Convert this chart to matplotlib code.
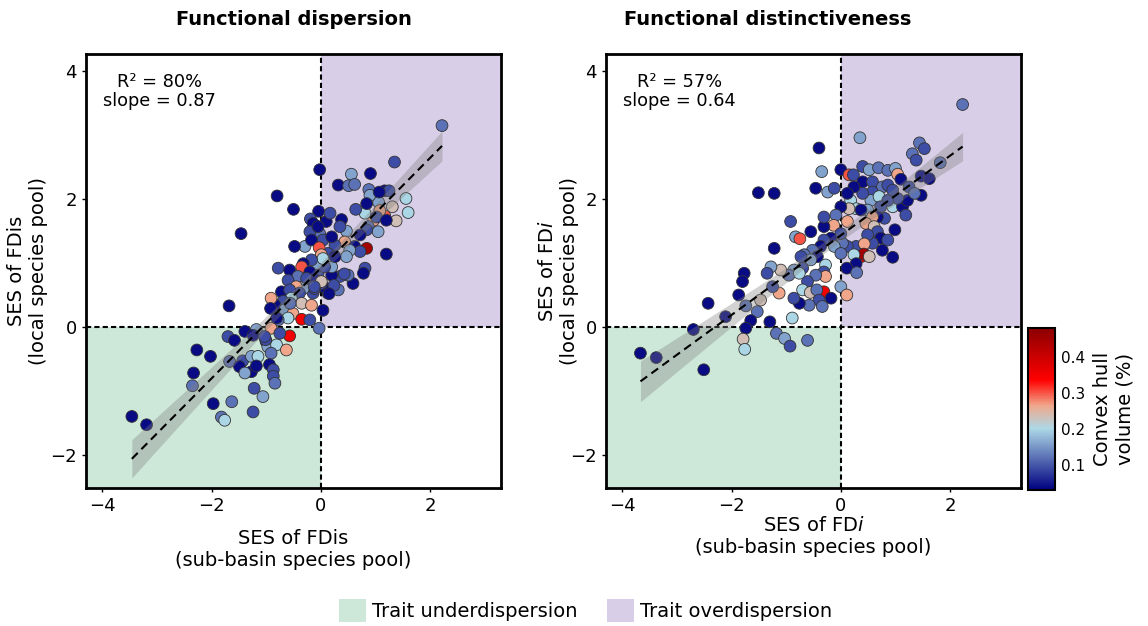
import numpy as np
import matplotlib
matplotlib.use("Agg")
import matplotlib.pyplot as plt
from matplotlib.colors import LinearSegmentedColormap
from matplotlib.patches import Patch

plt.rcParams['font.family'] = ['DejaVu Sans']
plt.rcParams['mathtext.fontset'] = 'dejavusans'

# convex hull volume (%) codes
N, D, M, S, L, R, A, T, E, K = 0.04, 0.09, 0.12, 0.16, 0.20, 0.235, 0.265, 0.30, 0.35, 0.45

# --- Functional dispersion (left) ---
fdis_sub = [2.22, 1.35, -0.02, 0.56, 0.91, 0.32, 0.51, 0.62, -0.80, -0.50,
            -0.04, -0.19, 0.10, 0.88, 1.06, 1.17, 1.25, 0.90, 1.07, 1.56,
            1.60, 1.31, 1.38, 1.17, 1.08, 0.97, 0.81, 0.64, 0.84, 1.02,
            1.20, 0.87, 1.05, 0.84, 0.72, 0.47, 0.38, 0.17, 0.35, -0.02,
            -0.14, 0.04, 0.44, 0.26, 0.20, 0.62, 0.84, 0.72, 0.53, 0.47,
            1.20, 0.81, 0.78, 0.59, 0.50, 0.32, 0.35, 0.13, 0.20, 0.04,
            -0.20, -0.14, -0.05, 0.01, 0.20, 0.04, 0.13, 0.26, 0.07, -0.08,
            -0.29, -0.48, -0.20, -0.05, -0.17, -0.03, 0.01, 0.04, -0.17, -0.32,
            -0.35, -0.78, -0.57, -0.42, -0.60, -0.20, -0.26, -0.08, -0.11, 0.01,
            -0.32, -0.45, -0.39, -0.72, -0.57, -0.54, -0.35, -0.17, -0.69, -0.84,
            -0.91, -0.66, -0.51, -0.35, -0.60, 0.04, -0.03, -0.57, -0.20, -0.78,
            -0.91, -1.46, -1.68, -0.92, -0.81, -0.56, -1.18, -1.39, -1.24, -1.70,
            -1.58, -1.00, -0.97, -0.81, -0.91, -0.63, -1.01, -2.27, -2.02, -1.67,
            -1.43, -1.27, -1.15, -1.49, -1.27, -1.18, -1.39, -0.94, -0.87, -0.87,
            -0.84, -2.33, -2.35, -1.22, -1.06, -1.97, -1.63, -1.24, -1.82, -1.76,
            -3.46, -3.19, -1.03, -0.75, 0.43, 0.24, 0.15, -0.12]
fdis_local = [3.15, 2.58, 2.46, 2.39, 2.40, 2.22, 2.21, 2.23, 2.05, 1.84,
              1.81, 1.69, 1.65, 2.15, 1.95, 2.13, 2.13, 2.06, 2.11, 2.01,
              1.79, 1.88, 1.66, 1.74, 1.82, 1.67, 1.78, 1.84, 1.93, 1.72,
              1.67, 1.57, 1.49, 1.52, 1.44, 1.50, 1.68, 1.78, 1.57, 1.46,
              1.62, 1.36, 1.33, 1.28, 1.41, 1.26, 1.23, 1.18, 1.20, 1.10,
              1.14, 0.92, 0.84, 0.68, 0.81, 0.58, 0.79, 0.53, 0.81, 0.63,
              0.68, 0.53, 0.84, 0.68, 0.94, 1.05, 1.15, 1.10, 0.94, 0.99,
              1.26, 1.26, 1.49, 1.57, 1.36, 1.24, 1.13, 1.07, 1.05, 0.99,
              0.94, 0.92, 0.89, 0.79, 0.73, 0.86, 0.76, 0.73, 0.60, 0.71,
              0.60, 0.63, 0.53, 0.55, 0.58, 0.45, 0.37, 0.34, 0.40, 0.34,
              0.45, 0.27, 0.21, 0.12, 0.14, 0.26, -0.02, -0.14, 0.11, 0.11,
              -0.02, 1.46, 0.33, 0.29, 0.14, 0.37, -0.04, -0.07, -0.13, -0.15,
              -0.21, -0.23, -0.31, -0.28, -0.41, -0.36, -0.20, -0.36, -0.46, -0.54,
              -0.53, -0.46, -0.46, -0.62, -0.70, -0.61, -0.72, -0.59, -0.67, -0.77,
              -0.88, -0.72, -0.92, -0.96, -1.09, -1.20, -1.17, -1.33, -1.41, -1.46,
              -1.40, -1.53, -0.15, -0.10, 0.83, 0.65, 0.52, 0.63]
fdis_hull = [M, D, N, S, N, N, M, M, N, N,
             N, D, N, M, S, N, D, S, N, L,
             L, R, R, T, A, A, L, D, N, D,
             N, M, S, D, N, S, N, D, D, M,
             N, D, A, D, N, N, K, D, S, S,
             N, D, N, N, M, M, D, N, N, N,
             N, D, D, D, S, M, D, N, D, S,
             S, N, D, N, N, T, A, L, D, N,
             T, D, N, M, D, N, D, N, D, R,
             S, A, D, N, D, L, R, A, D, N,
             A, S, A, E, L, N, M, E, D, M,
             A, N, N, N, N, M, S, N, N, D,
             N, N, S, L, M, A, D, N, N, M,
             D, S, L, N, N, N, S, N, D, D,
             M, N, M, D, S, N, M, D, M, L,
             N, N, D, D, D, D, N, D]

# --- Functional distinctiveness (right) ---
fdi_sub = [2.23, 0.35, -0.40, 1.44, 1.53, 1.31, 1.38, 1.82, -0.35, 0.00,
           0.15, 0.23, 0.40, 0.52, 0.69, 0.86, 1.00, 1.04, 1.10, 1.47,
           1.62, 1.47, -1.51, -1.22, -0.46, -0.24, -0.12, 0.40, 0.58, 0.76,
           0.58, 0.55, 0.49, 0.70, 0.95, 1.13, 1.22, 1.04, 1.19, 0.86,
           0.73, 0.18, 0.28, 0.15, 0.00, -0.09, 0.37, 0.80, 0.67, 0.58,
           0.46, 0.61, 0.12, -0.13, -0.31, -0.31, -0.92, -0.83, -0.75, -0.55,
           -1.22, 0.67, 0.73, 0.86, 0.99, 0.95, 0.76, 0.58, 0.49, 0.40,
           0.28, 0.12, 0.03, 0.43, 0.37, 0.42, 0.52, 0.24, 0.28, 0.11,
           0.29, 0.00, -0.18, -0.12, 0.00, -0.31, -0.37, -0.52, -0.43, -0.67,
           -0.55, -0.70, -0.73, -0.28, -0.31, -0.86, -0.95, -1.10, -1.28, -1.35,
           -1.77, -1.80, -0.28, -0.46, -0.61, -0.76, -0.70, -0.56, -0.31, -0.44,
           -0.40, -0.58, -0.34, -0.18, 0.00, 0.11, -0.76, -0.86, -1.13, -1.25,
           -1.47, -1.53, -1.74, -0.89, -2.43, -2.11, -1.87, -1.65, -1.74, -1.79,
           -1.76, -2.70, -3.67, -3.38, -2.51, -1.30, -1.18, -1.03, -0.93, -0.61,
           0.86, 0.95, 1.25, 1.35, 0.40, 0.24, 0.12]
fdi_local = [3.48, 2.96, 2.80, 2.88, 2.79, 2.71, 2.61, 2.57, 2.43, 2.46,
             2.38, 2.38, 2.51, 2.46, 2.49, 2.45, 2.48, 2.39, 2.31, 2.36,
             2.32, 2.06, 2.10, 2.09, 2.17, 2.11, 2.17, 2.27, 2.27, 2.19,
             2.11, 1.98, 1.83, 2.04, 1.88, 1.88, 1.98, 2.01, 1.75, 1.98,
             1.88, 1.98, 1.85, 1.85, 1.88, 1.75, 1.83, 1.70, 1.72, 1.72,
             1.62, 1.57, 1.65, 1.59, 1.57, 1.72, 1.65, 1.41, 1.38, 1.49,
             1.23, 1.49, 1.39, 1.36, 1.52, 1.09, 1.20, 1.31, 1.44, 1.18,
             1.26, 1.26, 1.31, 1.30, 1.10, 1.14, 1.10, 1.13, 0.99, 0.92,
             0.85, 1.46, 1.39, 1.26, 1.15, 1.36, 1.26, 1.20, 1.10, 1.13,
             1.05, 0.92, 1.10, 0.97, 0.86, 0.89, 0.81, 0.89, 0.94, 0.84,
             0.84, 0.71, 0.79, 0.81, 0.71, 0.84, 0.58, 0.54, 0.55, 0.58,
             0.42, 0.34, 0.32, 0.45, 0.63, 0.50, 0.37, 0.45, 0.53, 0.63,
             0.42, 0.24, 0.33, 0.14, 0.37, 0.16, 0.50, 0.10, -0.02, -0.19,
             -0.35, -0.04, -0.41, -0.48, -0.67, 0.08, -0.10, -0.18, -0.30, -0.21,
             2.22, 2.14, 2.19, 2.09, 2.09, 2.19, 2.09]
fdi_hull = [M, S, N, M, D, M, D, M, S, N,
            T, D, D, S, M, M, S, A, N, N,
            N, N, N, N, N, S, D, N, D, M,
            D, S, S, L, L, N, N, D, D, D,
            D, L, L, R, N, M, N, D, N, A,
            A, R, A, A, N, D, D, S, T, N,
            N, D, N, D, N, N, N, D, D, S,
            D, D, M, A, E, K, R, L, N, N,
            M, D, N, S, M, D, N, M, N, M,
            S, D, D, L, D, S, M, R, S, D,
            N, N, A, M, D, L, L, R, E, M,
            D, M, M, N, S, A, N, D, A, D,
            R, M, M, L, N, N, N, N, N, R,
            L, N, N, N, N, N, M, S, D, M,
            D, D, D, M, D, N, N]

panels = [
    ("Functional dispersion", fdis_sub, fdis_local, fdis_hull,
     "R\u00b2 = 80%\nslope = 0.87",
     "SES of FDis\n(sub-basin species pool)", "SES of FDis\n(local species pool)"),
    ("Functional distinctiveness", fdi_sub, fdi_local, fdi_hull,
     "R\u00b2 = 57%\nslope = 0.64",
     "SES of FD$\\mathit{i}$\n(sub-basin species pool)", "SES of FD$\\mathit{i}$\n(local species pool)"),
]

XLIM = (-4.3, 3.3)
YLIM = (-2.52, 4.27)
GREEN = '#cde8d9'
PURPLE = '#d8cee7'

cmap = LinearSegmentedColormap.from_list(
    "hull", [(0.0, '#000080'), (0.38, '#add8e6'), (0.52, '#f0a88c'),
             (0.68, '#ff0000'), (1.0, '#8b0000')])
VMIN, VMAX = 0.03, 0.48

fig = plt.figure(figsize=(11.48, 6.26), dpi=100)
ax_pos = [[0.0749, 0.2204, 0.3615, 0.6933], [0.5279, 0.2204, 0.3615, 0.6933]]
title_x = [0.5, 0.39]
xpad = [10, 1]
ypad = [2, -6]

for i, (title, xs, ys, cs, stat, xlab, ylab) in enumerate(panels):
    ax = fig.add_axes(ax_pos[i])
    xs, ys = np.array(xs), np.array(ys)
    ax.set_xlim(*XLIM)
    ax.set_ylim(*YLIM)

    # quadrant shading
    ax.fill_between([XLIM[0], 0], YLIM[0], 0, color=GREEN, lw=0, zorder=0)
    ax.fill_between([0, XLIM[1]], 0, YLIM[1], color=PURPLE, lw=0, zorder=0)
    ax.axhline(0, color='black', lw=1.5, ls=(0, (2.5, 1.5)), zorder=1)
    ax.axvline(0, color='black', lw=1.5, ls=(0, (2.5, 1.5)), zorder=1)

    sc = ax.scatter(xs, ys, c=cs, cmap=cmap, vmin=VMIN, vmax=VMAX, s=72,
                    edgecolors='#333333', linewidths=0.6, zorder=3)

    # linear fit with 95% confidence band
    slope, icpt = np.polyfit(xs, ys, 1)
    gx = np.linspace(xs.min(), xs.max(), 100)
    gy = icpt + slope * gx
    n = len(xs)
    resid = ys - (icpt + slope * xs)
    s_err = np.sqrt(np.sum(resid ** 2) / (n - 2))
    se = s_err * np.sqrt(1 / n + (gx - xs.mean()) ** 2 / np.sum((xs - xs.mean()) ** 2))
    ax.fill_between(gx, gy - 1.97 * se, gy + 1.97 * se, color='grey', alpha=0.35,
                    lw=0, zorder=4)
    ax.plot(gx, gy, color='black', lw=1.5, ls=(0, (4, 2.5)), zorder=5)

    ax.text(-2.95, 3.68, stat, ha='center', va='center', fontsize=12.8,
            multialignment='center', linespacing=1.05)

    ax.set_title(title, fontsize=14, fontweight='bold', pad=21, x=title_x[i])
    ax.set_xlabel(xlab, fontsize=14, labelpad=xpad[i])
    ax.set_ylabel(ylab, fontsize=14, labelpad=ypad[i])
    ax.set_xticks([-4, -2, 0, 2])
    ax.set_yticks([-2, 0, 2, 4])
    ax.tick_params(labelsize=13, length=3, width=1)
    for sp in ax.spines.values():
        sp.set_linewidth(2)
        sp.set_zorder(6)

cax = fig.add_axes([0.8955, 0.2173, 0.0235, 0.2588])
cb = fig.colorbar(sc, cax=cax)
cb.set_ticks([0.1, 0.2, 0.3, 0.4])
cb.ax.tick_params(labelsize=11, length=0, pad=4)
cb.outline.set_linewidth(1.5)
cb.set_label("Convex hull\nvolume (%)", fontsize=14, labelpad=6)

handles = [Patch(facecolor=GREEN, edgecolor='none', label='Trait underdispersion'),
           Patch(facecolor=PURPLE, edgecolor='none', label='Trait overdispersion')]
fig.legend(handles=handles, loc='center', bbox_to_anchor=(0.51, 0.025), ncol=2,
           frameon=False, fontsize=14, handlelength=1.4, handleheight=1.4,
           handletextpad=0.3, columnspacing=1.5)

fig.savefig("out.png", dpi=100)
